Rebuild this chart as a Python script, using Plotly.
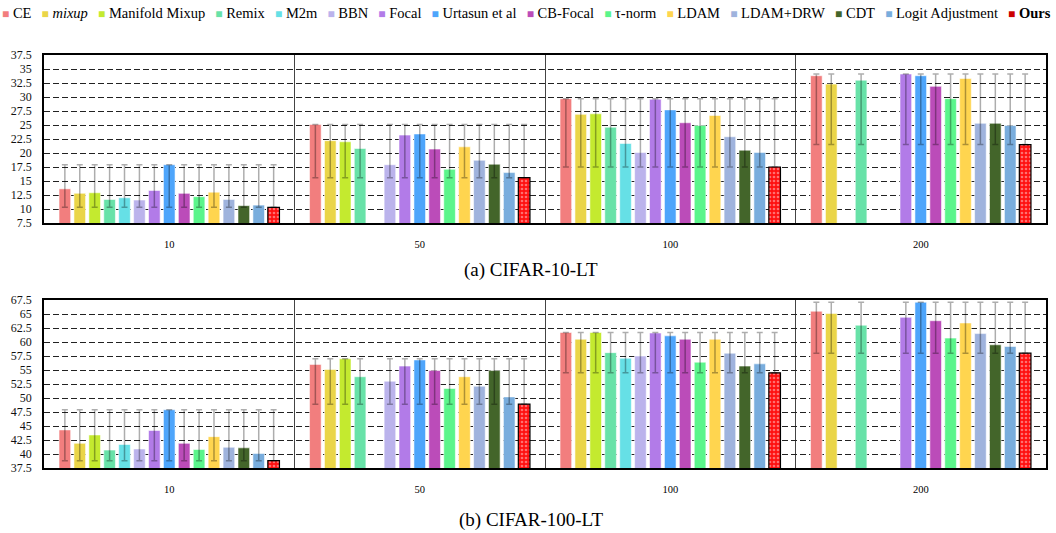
import numpy as np
import plotly.graph_objects as go
from plotly.subplots import make_subplots

groups = ["10", "50", "100", "200"]
methods = ["CE", "mixup", "Manifold Mixup", "Remix", "M2m", "BBN", "Focal", "Urtasun et al",
           "CB-Focal", "τ-norm", "LDAM", "LDAM+DRW", "CDT", "Logit Adjustment", "Ours"]
legend_labels = ["CE", "<i>mixup</i>", "Manifold Mixup", "Remix", "M2m", "BBN", "Focal", "Urtasun et al",
                 "CB-Focal", "τ-norm", "LDAM", "LDAM+DRW", "CDT", "Logit Adjustment", "<b>Ours</b>"]
colors = ["#f27e7e", "#ead548", "#c4ea2f", "#68e2a8", "#66e0e6", "#bbb3ec", "#b27be8", "#4ea5fb",
          "#bb4cb9", "#5bf58b", "#ffd54f", "#9fb3dd", "#43652a", "#79addd", "#ff1010"]

# CIFAR-10-LT error rates, per imbalance ratio (order = methods)
cifar10_r10 = [13.6, 12.8, 12.9, 11.7, 12.0, 11.6, 13.3, 17.9, 12.8, 12.2, 13.0, 11.7, 10.6, 10.7, 10.3]
cifar10_r50 = [25.1, 22.2, 22.0, 20.8, None, 17.9, 23.2, 23.4, 20.7, 17.1, 21.1, 18.7, 18.0, 16.5, 15.6]
cifar10_r100 = [29.7, 26.9, 27.0, 24.6, 21.7, 20.1, 29.6, 27.7, 25.4, 24.9, 26.7, 22.9, 20.5, 20.1, 17.5]
cifar10_r200 = [33.8, 32.3, None, 33.0, None, None, 34.1, 33.8, 31.9, 29.7, 33.3, 25.3, 25.3, 24.9, 21.5]

# CIFAR-100-LT error rates
cifar100_r10 = [44.3, 41.9, 43.4, 40.7, 41.7, 40.9, 44.2, 47.9, 41.9, 40.8, 43.1, 41.2, 41.1, 40.1, 38.8]
cifar100_r50 = [56.0, 55.1, 57.0, 53.8, None, 53.0, 55.7, 56.8, 54.9, 51.7, 53.8, 52.1, 54.9, 50.2, 48.9]
cifar100_r100 = [61.7, 60.5, 61.7, 58.1, 57.1, 57.5, 61.6, 61.1, 60.5, 56.4, 60.5, 58.0, 55.7, 56.1, 54.5]
cifar100_r200 = [65.5, 65.1, None, 63.0, None, None, 64.4, 67.1, 63.8, 60.7, 63.4, 61.5, 59.5, 59.2, 58.0]

datasets = [
    [cifar10_r10, cifar10_r50, cifar10_r100, cifar10_r200],
    [cifar100_r10, cifar100_r50, cifar100_r100, cifar100_r200],
]
y_ranges = [(7.5, 37.5), (37.5, 67.5)]
captions = ["(a) CIFAR-10-LT", "(b) CIFAR-100-LT"]

SERIF = "Liberation Serif"

fig = make_subplots(rows=2, cols=1)

for row, data in enumerate(datasets, start=1):
    arr = np.array([[np.nan if v is None else v for v in g] for g in data], dtype=float)  # groups x methods
    gmax = np.nanmax(arr, axis=1)
    gours = arr[:, -1]
    for m, name in enumerate(methods):
        vals = arr[:, m]
        yv = [None if np.isnan(v) else float(v) for v in vals]
        up = [None if np.isnan(v) else float(gmax[i] - v) for i, v in enumerate(vals)]
        dn = [None if np.isnan(v) else float(v - gours[i]) for i, v in enumerate(vals)]
        is_ours = (m == len(methods) - 1)
        marker = dict(color=colors[m],
                      line=dict(color="#000000" if is_ours else "rgba(255,255,255,0.7)",
                                width=1.2 if is_ours else 0.8))
        if is_ours:
            marker["pattern"] = dict(shape=".", fgcolor="#ffd0d0", size=4, solidity=0.35)
        fig.add_trace(go.Bar(
            x=groups, y=yv, name=name, marker=marker, showlegend=False,
            error_y=dict(type="data", symmetric=False, array=up, arrayminus=dn,
                         color="rgba(0,0,0,0.32)", thickness=1.5, width=3),
        ), row=row, col=1)

# layout geometry
H = 533
top, bottom = 55, 65
plot_h = H - top - bottom
sub_h = 168
fig.update_layout(
    width=1056, height=H,
    margin=dict(l=44, r=8, t=top, b=bottom),
    plot_bgcolor="white", paper_bgcolor="white",
    barmode="group", bargap=0.107, bargroupgap=0.22,
    font=dict(family=SERIF, color="black"),
    showlegend=False,
)
fig.update_layout(
    yaxis=dict(domain=[1 - sub_h / plot_h, 1]),
    yaxis2=dict(domain=[0, sub_h / plot_h]),
)
for r in (1, 2):
    lo, hi = y_ranges[r - 1]
    fig.update_yaxes(range=[lo, hi], tick0=lo, dtick=2.5, showgrid=True,
                     gridcolor="#222", gridwidth=1, griddash="6px,3px",
                     showline=True, linecolor="black", linewidth=1.5, mirror=True,
                     ticks="", ticklabelstandoff=8,
                     tickfont=dict(size=12, family=SERIF, color="#111"),
                     zeroline=False, row=r, col=1)
    fig.update_xaxes(type="category", tickson="boundaries", showgrid=True,
                     gridcolor="#444", gridwidth=1.2,
                     showline=True, linecolor="black", linewidth=1.5, mirror=True,
                     ticks="", ticklabelstandoff=11,
                     tickfont=dict(size=10.5, family=SERIF, color="black"), row=r, col=1)

# captions
cap_y = [(H - bottom - 270) / plot_h, (H - bottom - 520) / plot_h]
for cap, cy in zip(captions, cap_y):
    fig.add_annotation(text=cap, xref="paper", yref="paper", x=(532 - 44) / 1004, y=cy,
                       showarrow=False, xanchor="center", yanchor="middle",
                       font=dict(size=19, family=SERIF, color="black"))

# legend row (text entries with colored squares)
sp = "\u00a0"
parts = []
for lab, col in zip(legend_labels, colors):
    sq_col = "#cc0000" if lab.startswith("<b>") else col
    parts.append(f"<span style='color:{sq_col};font-size:12px'>■</span>{sp}{lab}")
legend_text = (sp * 2 + "\u2009").join(parts)
fig.add_annotation(text=legend_text, xref="paper", yref="paper",
                   x=(527.5 - 44) / 1004, y=1 + (top - 13) / plot_h,
                   showarrow=False, xanchor="center", yanchor="middle",
                   font=dict(size=14.5, family=SERIF, color="black"))

fig.write_html("out.html")
